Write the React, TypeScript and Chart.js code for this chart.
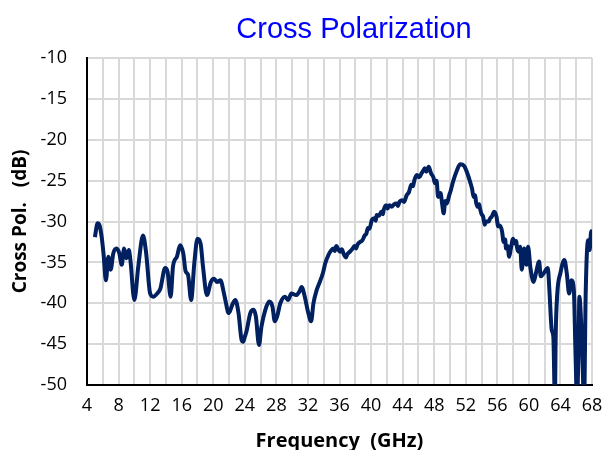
import { useEffect, useRef } from "react";
import { Chart, registerables } from "chart.js";

Chart.register(...registerables);

const TITLE = "Cross Polarization";
const X_TITLE = "Frequency  (GHz)";
const Y_TITLE = "Cross Pol.   (dB)";

const freqGHz = [
  5.0, 5.35, 5.6, 5.86, 6.1, 6.4, 6.7, 7.0, 7.33, 7.75,
  8.1, 8.4, 8.7, 9.0, 9.3, 9.5, 10.0, 10.5, 11.1, 11.5,
  12.0, 12.4, 12.9, 13.3, 13.9, 14.2, 14.6, 14.9, 15.4, 15.8,
  16.2, 16.5, 16.8, 17.2, 17.6, 18.0, 18.4, 18.7, 19.2, 19.7,
  20.1, 20.5, 20.9, 21.4, 21.7, 21.9, 22.1, 22.5, 22.8, 23.2,
  23.6, 23.8, 24.0, 24.2, 24.7, 25.1, 25.4, 25.8, 26.1, 26.6,
  27.1, 27.5, 27.8, 28.1, 28.5, 29.1, 29.5, 29.9, 30.5, 30.9,
  31.2, 31.6, 32.0, 32.4, 32.7, 33.1, 33.5, 33.9, 34.2, 34.6,
  34.9, 35.2, 35.4, 35.6, 35.9, 36.1, 36.3, 36.5, 36.8, 37.0,
  37.3, 37.6, 37.9, 38.1, 38.3, 38.6, 38.9, 39.2, 39.4, 39.6,
  39.8, 40.1, 40.4, 40.6, 40.7, 41.0, 41.3, 41.5, 41.6, 41.9,
  42.1, 42.3, 42.6, 42.9, 43.2, 43.4, 43.6, 43.9, 44.2, 44.5,
  44.8, 45.1, 45.3, 45.5, 45.8, 46.1, 46.4, 46.6, 46.8, 47.0,
  47.3, 47.5, 47.6, 47.9, 48.1, 48.3, 48.5, 48.8, 49.0, 49.2,
  49.4, 49.6, 49.9, 50.1, 50.4, 50.9, 51.3, 51.8, 52.2, 52.6,
  52.8, 53.0, 53.2, 53.3, 53.5, 53.7, 53.8, 54.0, 54.2, 54.4,
  54.6, 54.9, 55.1, 55.3, 55.6, 55.9, 56.1, 56.3, 56.6, 56.8,
  57.0, 57.1, 57.3, 57.5, 57.7, 58.0, 58.2, 58.4, 58.5, 58.7,
  58.9, 59.1, 59.4, 59.7, 59.9, 60.2, 60.6, 60.9, 61.3, 61.5,
  61.9, 62.4, 62.6, 62.9, 63.1, 63.3, 63.4, 63.6, 64.0, 64.5,
  64.8, 65.1, 65.4, 65.7, 65.9, 66.1, 66.3, 66.4, 66.7, 67.0,
  67.2, 67.5, 67.7, 67.9, 68.0,
];

const crossPolDb = [
  -31.9, -30.2, -30.5, -31.9, -34.0, -37.2, -34.3, -35.9, -33.9, -33.3,
  -33.9, -35.3, -33.3, -34.5, -33.5, -34.7, -39.6, -35.5, -31.7, -33.9,
  -38.8, -39.2, -38.8, -38.2, -35.7, -36.1, -39.2, -35.5, -34.3, -32.9,
  -33.9, -36.1, -36.5, -39.6, -35.1, -32.1, -32.7, -35.5, -39.0, -37.4,
  -37.0, -37.4, -37.2, -39.0, -40.4, -41.2, -41.0, -40.0, -39.6, -41.2,
  -44.5, -44.7, -44.1, -43.5, -41.2, -40.8, -41.6, -45.1, -42.9, -40.8,
  -39.8, -40.4, -42.2, -41.6, -40.0, -39.2, -39.6, -38.8, -39.0, -38.6,
  -38.0, -39.2, -41.0, -42.2, -40.0, -38.4, -37.4, -36.3, -35.1, -34.1,
  -33.6, -33.3, -33.6, -33.0, -33.5, -33.7, -33.4, -33.9, -34.4, -34.0,
  -33.7, -33.4, -33.0, -33.3, -32.8, -32.5, -32.3, -31.7, -31.5, -30.8,
  -30.9, -29.8, -29.6, -29.9, -29.2, -29.3, -28.8, -29.1, -28.6, -28.0,
  -28.4, -28.0, -28.2, -27.9, -27.8, -28.1, -27.6, -27.4, -27.6, -26.8,
  -26.4, -25.5, -25.7, -24.9, -24.3, -24.6, -24.1, -23.8, -23.5, -23.9,
  -23.3, -23.8, -24.1, -24.6, -25.3, -25.0, -27.0, -26.5, -27.8, -29.0,
  -27.5, -27.8, -26.8, -26.2, -25.1, -23.7, -23.0, -23.2, -24.1, -25.3,
  -26.0, -27.0, -26.8, -27.6, -28.2, -27.9, -28.4, -29.1, -29.4, -30.4,
  -30.0, -30.0, -29.6, -29.4, -28.8, -29.4, -30.6, -30.5, -31.2, -32.5,
  -32.2, -33.3, -33.0, -34.3, -33.4, -32.1, -32.7, -32.4, -33.2, -33.7,
  -33.1, -35.9, -33.3, -35.3, -33.1, -35.7, -37.4, -36.3, -34.9, -36.7,
  -36.3, -35.7, -38.4, -43.3, -44.1, -52.0, -44.0, -38.8, -36.3, -34.7,
  -36.3, -38.8, -37.2, -38.4, -45.7, -52.0, -45.0, -39.2, -44.1, -52.0,
  -38.8, -32.3, -33.5, -31.2, -32.7,
];

const X_MIN = 4;
const X_MAX = 68;
const X_STEP = 2;
const X_LABEL_EVERY = 4;
const Y_MIN = -50;
const Y_MAX = -10;
const Y_STEP = 5;

const titlePlugin = {
  id: "customTitle",
  afterDraw(chart: any) {
    const ctx = chart.ctx;
    ctx.save();
    ctx.font = "29px 'Liberation Sans', Arial, sans-serif";
    ctx.fillStyle = "#0000FF";
    ctx.textAlign = "center";
    ctx.textBaseline = "alphabetic";
    ctx.fillText(TITLE, 354, 38);
    ctx.restore();
  },
};

export default function App() {
  const ref = useRef<HTMLCanvasElement>(null);
  useEffect(() => {
    if (!ref.current) return;
    const chart = new Chart(ref.current, {
      type: "line",
      data: {
        datasets: [
          {
            data: freqGHz.map((f, i) => ({ x: f, y: crossPolDb[i] })),
            borderColor: "#002060",
            borderWidth: 4,
            pointRadius: 0,
            cubicInterpolationMode: "monotone",
            fill: false,
          },
        ],
      },
      options: {
        animation: false,
        responsive: false,
        maintainAspectRatio: false,
        layout: { padding: { top: 58, right: 21, bottom: 0, left: 0 } },
        plugins: { legend: { display: false }, tooltip: { enabled: false }, title: { display: false } },
        scales: {
          x: {
            type: "linear",
            min: X_MIN,
            max: X_MAX,
            afterFit(scale: any) {
              scale.height = 65;
            },
            afterBuildTicks(scale: any) {
              const t = [];
              for (let v = X_MIN; v <= X_MAX; v += X_STEP) t.push({ value: v });
              scale.ticks = t;
            },
            ticks: {
              autoSkip: false,
              maxRotation: 0,
              padding: 10,
              color: "#000",
              font: { family: "'Open Sans', sans-serif", size: 18 },
              callback: (v: any) => (Number(v) % X_LABEL_EVERY === 0 ? String(v) : ""),
            },
            grid: { color: "#d9d9d9", lineWidth: 2, drawTicks: false },
            border: { color: "#000", width: 2 },
            title: {
              display: true,
              text: X_TITLE,
              color: "#000",
              font: { family: "'Open Sans', sans-serif", size: 20, weight: "bold" },
              padding: { top: 0, bottom: -3 },
            },
          },
          y: {
            min: Y_MIN,
            max: Y_MAX,
            afterFit(scale: any) {
              scale.width = 87;
            },
            ticks: {
              stepSize: Y_STEP,
              padding: 20,
              color: "#000",
              font: { family: "'Open Sans', sans-serif", size: 18 },
            },
            grid: { color: "#d9d9d9", lineWidth: 2, drawTicks: false },
            border: { color: "#000", width: 2 },
            title: {
              display: true,
              text: Y_TITLE,
              color: "#000",
              font: { family: "'Open Sans', sans-serif", size: 19, weight: "bold" },
              padding: { top: 9, bottom: 0 },
            },
          },
        },
      },
      plugins: [titlePlugin],
    });
    return () => chart.destroy();
  }, []);
  return (
    <div style={{ position: "fixed", left: 0, top: 0, width: 613, height: 450, background: "#fff" }}>
      <canvas ref={ref} width={613} height={450} style={{ width: 613, height: 450 }} />
    </div>
  );
}
